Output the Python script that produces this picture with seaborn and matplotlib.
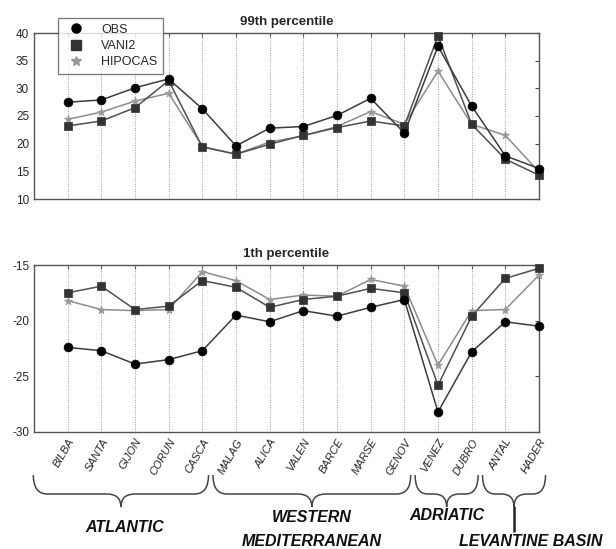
import numpy as np
import pandas as pd
import matplotlib
matplotlib.use("Agg")
import matplotlib.pyplot as plt
from matplotlib.lines import Line2D
from matplotlib.path import Path
from matplotlib.patches import PathPatch
import seaborn as sns

stations = ['BILBA', 'SANTA', 'GIJON', 'CORUN', 'CASCA', 'MALAG', 'ALICA', 'VALEN',
            'BARCE', 'MARSE', 'GENOV', 'VENEZ', 'DUBRO', 'ANTAL', 'HADER']

# 99th percentile
obs_99 = [27.5, 27.9, 30.1, 31.7, 26.3, 19.6, 22.8, 23.1, 25.1, 28.2, 21.9, 37.6, 26.8, 17.8, 15.5]
vani2_99 = [23.2, 24.1, 26.5, 31.4, 19.4, 18.1, 19.9, 21.5, 22.9, 24.1, 23.2, 39.5, 23.5, 17.2, 14.3]
hipocas_99 = [24.4, 25.7, 27.7, 29.1, 19.5, 18.1, 20.3, 21.4, 23.1, 25.8, 23.5, 33.1, 23.5, 21.5, 14.9]

# 1th percentile
obs_1 = [-22.4, -22.7, -23.9, -23.5, -22.7, -19.5, -20.1, -19.1, -19.6, -18.8, -18.1, -28.2, -22.8, -20.1, -20.5]
vani2_1 = [-17.5, -16.9, -19.0, -18.7, -16.4, -17.0, -18.8, -18.1, -17.8, -17.1, -17.5, -25.8, -19.6, -16.2, -15.3]
hipocas_1 = [-18.2, -19.0, -19.1, -19.0, -15.6, -16.4, -18.1, -17.7, -17.8, -16.3, -16.9, -24.0, -19.1, -19.0, -15.9]

# regions: (label, first station index, last station index)
regions = [('ATLANTIC', 0, 4), ('WESTERN\nMEDITERRANEAN', 5, 10),
           ('ADRIATIC', 11, 12), ('LEVANTINE BASIN', 13, 14)]

series = ['OBS', 'VANI2', 'HIPOCAS']
line_col = {'OBS': '#3c3c3c', 'VANI2': '#505050', 'HIPOCAS': '#8c8c8c'}
mark_col = {'OBS': '#000000', 'VANI2': '#333333', 'HIPOCAS': '#999999'}
markers = {'OBS': 'o', 'VANI2': 's', 'HIPOCAS': '*'}
sizes = {'OBS': 40, 'VANI2': 34, 'HIPOCAS': 38}


def long_table(obs, vani, hip):
    rows = []
    for name, vals in zip(series, [obs, vani, hip]):
        for i, v in enumerate(vals):
            rows.append({'pos': i, 'value': v, 'series': name})
    return pd.DataFrame(rows)


sns.set_style('white')
plt.rcParams['font.family'] = ['Liberation Sans', 'DejaVu Sans']
plt.rcParams['axes.unicode_minus'] = False

fig = plt.figure(figsize=(6.16, 5.49), dpi=100)
W, H = 616, 549
ax1 = fig.add_axes([34 / W, 1 - 199 / H, 505 / W, 166 / H])
ax2 = fig.add_axes([34 / W, 1 - 432 / H, 505 / W, 167 / H])

for ax, df, title, ylim, yticks in [
        (ax1, long_table(obs_99, vani2_99, hipocas_99), '99th percentile', (10, 40), range(10, 41, 5)),
        (ax2, long_table(obs_1, vani2_1, hipocas_1), '1th percentile', (-30, -15), range(-30, -14, 5))]:
    for s in ['HIPOCAS', 'VANI2', 'OBS']:
        sub = df[df['series'] == s]
        sns.lineplot(data=sub, x='pos', y='value', color=line_col[s], lw=1.1, ax=ax, zorder=3)
        sns.scatterplot(data=sub, x='pos', y='value', color=mark_col[s], marker=markers[s],
                        s=sizes[s], edgecolor=mark_col[s],
                        linewidth=0.5, ax=ax, zorder=4, clip_on=False)
    ax.set_xlim(-1, 14)
    ax.set_ylim(*ylim)
    ax.set_yticks(list(yticks))
    ax.set_xticks(range(len(stations)))
    for x in range(len(stations)):
        ax.axvline(x, color='#9a9a9a', lw=0.7, ls=(0, (1, 1.5)), zorder=1)
    ax.set_xlabel('')
    ax.set_ylabel('')
    ax.set_title(title, fontsize=9.5, fontweight='bold', pad=6)
    ax.tick_params(direction='in', length=3, top=True, right=True, labelsize=8.5, color='#444444')
    for sp in ax.spines.values():
        sp.set_color('#555555')
        sp.set_linewidth(1.0)

ax1.set_xticklabels([])
ax2.set_xticklabels(stations, rotation=60, ha='right', rotation_mode='anchor',
                    fontsize=8, style='italic')

handles = [Line2D([], [], ls='none', marker=markers[s], color=mark_col[s],
               markersize=6.5 if s != 'HIPOCAS' else 7) for s in series]
leg = fig.legend(handles, series, loc='upper left', bbox_to_anchor=(58 / W, 1 - 18 / H),
                 frameon=True, fancybox=False, fontsize=9, handletextpad=1.0,
                 borderpad=0.45, labelspacing=0.35, handlelength=2.0, borderaxespad=0)
leg.get_frame().set_edgecolor('#555555')
leg.get_frame().set_linewidth(0.9)
leg.set_zorder(10)

# braces and region names in figure pixel space
ov = fig.add_axes([0, 0, 1, 1], zorder=-1)
ov.set_xlim(0, W)
ov.set_ylim(H, 0)
ov.axis('off')


def px(i):
    return 67 + 33.7 * i


def brace(x0, x1, ytop=475, ymid=494, ytip=507):
    xc = (x0 + x1) / 2
    r = min(14, (x1 - x0) / 5)
    verts = [(x0, ytop), (x0, ymid), (x0 + r, ymid),
             (xc - r, ymid), (xc, ymid), (xc, ytip),
             (xc, ymid), (xc + r, ymid),
             (x1 - r, ymid), (x1, ymid), (x1, ytop)]
    codes = [Path.MOVETO, Path.CURVE3, Path.CURVE3,
             Path.LINETO, Path.CURVE3, Path.CURVE3,
             Path.CURVE3, Path.CURVE3,
             Path.LINETO, Path.CURVE3, Path.CURVE3]
    ov.add_patch(PathPatch(Path(verts, codes), fill=False, lw=1.1, ec='#444444'))
    return xc


tfont = dict(fontsize=11.5, fontweight='bold', style='italic', color='#111111')
for label, i0, i1 in regions:
    x0 = px(i0 - 0.67) if i0 > 0 else px(-1)
    x1 = px(i1 + 0.2)
    xc = brace(x0, x1)
    if label == 'ATLANTIC':
        ov.text(xc + 4, 528, label, ha='center', va='center', **tfont)
    elif label.startswith('WESTERN'):
        ov.text(xc, 518, 'WESTERN', ha='center', va='center', **tfont)
        ov.text(xc, 542, 'MEDITERRANEAN', ha='center', va='center', **tfont)
    elif label == 'ADRIATIC':
        ov.text(xc, 516, label, ha='center', va='center', **tfont)
    else:
        ov.plot([xc, xc], [507, 531], color='#222222', lw=1.8)
        ov.text(531, 542, label, ha='center', va='center', **tfont)

fig.savefig('out.png', dpi=100)
plt.close(fig)
